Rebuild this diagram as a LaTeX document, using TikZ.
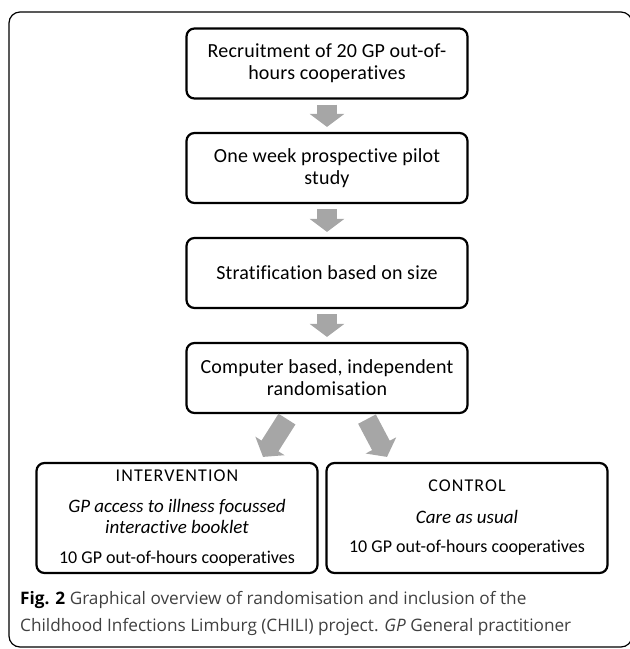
\documentclass[tikz,border=0pt]{standalone}
\usepackage{fontspec}
\usetikzlibrary{arrows.meta}
\newfontfamily\boxfont[LetterSpace=1,Ligatures=NoCommon]{Carlito}
\newfontfamily\armfont[Ligatures=NoCommon]{Carlito}
\newfontfamily\capsfont[LetterSpace=6,Ligatures=NoCommon]{Carlito}
\newfontfamily\capfont{Open Sans}
\definecolor{arrowgray}{RGB}{166,166,166}
\definecolor{capgray}{RGB}{64,64,64}
\newcommand\armhead[1]{{\capsfont\fontsize{18}{21}\selectfont #1}}
\newcommand\armit[1]{{\itshape\fontsize{19}{21}\selectfont #1}}
\begin{document}
\begin{tikzpicture}[x=1pt,y=-1pt,
 stepbox/.style={draw,line width=2.2pt,rounded corners=8pt,minimum width=281pt,minimum height=70pt,align=center,font=\boxfont\fontsize{20}{22}\selectfont},
 armbox/.style={stepbox,minimum height=110pt,font=\armfont\fontsize{18}{21}\selectfont},
 fatarrow/.style={draw=arrowgray,line width=20pt,-{Triangle[width=34pt,length=13pt]}}]
 \def\xmid{327}
 \useasboundingbox (0,0) rectangle (630,649);
 \draw[line width=1.2pt,rounded corners=11pt] (9,12) rectangle (632,647);
 % flow of steps
 \node[stepbox] (recruit) at (\xmid,63.5) {Recruitment of 20 GP out-of-\\hours cooperatives};
 \node[stepbox] (pilot) at (\xmid,168) {One week prospective pilot\\study};
 \node[stepbox] (strat) at (\xmid,273) {Stratification based on size};
 \node[stepbox] (random) at (\xmid,378) {Computer based, independent\\randomisation};
 \node[armbox,minimum width=281pt] (interv) at (177,518) {\armhead{INTERVENTION}\\[10pt]\armit{GP access to illness focussed}\\\armit{interactive booklet}\\[9pt]10 GP out-of-hours cooperatives};
 \node[armbox,minimum width=281pt] (control) at (467,518) {\armhead{CONTROL}\\[11pt]\armit{Care as usual}\\[8pt]10 GP out-of-hours cooperatives};
 \draw[fatarrow] ([yshift=-5pt]recruit.south)--([yshift=5pt]pilot.north);
 \draw[fatarrow] ([yshift=-5pt]pilot.south)--([yshift=5pt]strat.north);
 \draw[fatarrow] ([yshift=-5pt]strat.south)--([yshift=5pt]random.north);
 \draw[fatarrow] ([shift={(-40pt,-5pt)}]random.south)--([shift={(86pt,5pt)}]interv.north);
 \draw[fatarrow] ([shift={(40pt,-5pt)}]random.south)--([shift={(-80pt,5pt)}]control.north);
 \node[anchor=west,inner sep=0pt,align=left,text=capgray,font=\capfont\fontsize{17.2}{27}\selectfont] (caption) at (20,613.5)
  {{\bfseries\color{black}Fig. 2} Graphical overview of randomisation and inclusion of the\\Childhood Infections Limburg (CHILI) project. \textit{GP} General practitioner};
\end{tikzpicture}
\end{document}
